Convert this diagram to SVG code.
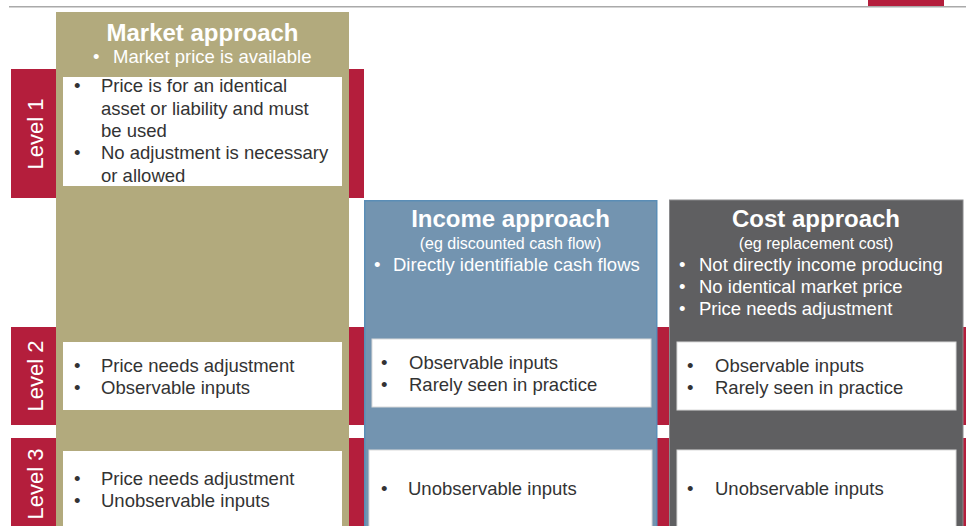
<svg xmlns="http://www.w3.org/2000/svg" width="966" height="526" viewBox="0 0 966 526">
  <style>
    text { font-family: "Liberation Sans", Arial, sans-serif; }
    .band { fill: #b41e3c; }
    .cell { fill: #ffffff; stroke: #d9d9d9; stroke-width: 1; }
    .title { font-size: 24px; font-weight: bold; fill: #ffffff; text-anchor: middle; }
    .sub { font-size: 16px; fill: #ffffff; text-anchor: middle; }
    .hdr { font-size: 18.5px; fill: #ffffff; }
    .body { font-size: 18.5px; fill: #333333; }
    .lvl { font-size: 22px; fill: #ffffff; text-anchor: middle; }
  </style>

  <!-- top rule and tab -->
  <rect x="9" y="6" width="957" height="1.5" fill="#aaaaaa"/>
  <rect x="868" y="0" width="76" height="6" fill="#b41e3c"/>

  <!-- level bands -->
  <g id="level1">
    <rect class="band" x="11" y="69" width="353" height="129"/>
    <text class="lvl" transform="translate(43,134) rotate(-90)">Level 1</text>
  </g>
  <g id="level2">
    <rect class="band" x="11" y="327" width="955" height="98"/>
    <text class="lvl" transform="translate(43,376) rotate(-90)">Level 2</text>
  </g>
  <g id="level3">
    <rect class="band" x="11" y="438" width="955" height="100"/>
    <text class="lvl" transform="translate(43,484) rotate(-90)">Level 3</text>
  </g>

  <!-- Market approach column -->
  <g id="market">
    <rect x="56" y="12" width="293" height="520" fill="#b2aa7d"/>
    <text class="title" x="202.5" y="41">Market approach</text>
    <text class="hdr" x="93" y="63">•</text>
    <text class="hdr" x="113" y="63">Market price is available</text>
  </g>
  <g id="market-l1">
    <rect x="63" y="77" width="279" height="109" fill="#ffffff"/>
    <text class="body" x="74" y="92">•</text>
    <text class="body" x="101" y="92">Price is for an identical</text>
    <text class="body" x="101" y="114.5">asset or liability and must</text>
    <text class="body" x="101" y="137">be used</text>
    <text class="body" x="74" y="159">•</text>
    <text class="body" x="101" y="159">No adjustment is necessary</text>
    <text class="body" x="101" y="181.5">or allowed</text>
  </g>
  <g id="market-l2">
    <rect x="63" y="342" width="279" height="68" fill="#ffffff"/>
    <text class="body" x="74" y="372">•</text>
    <text class="body" x="101" y="372">Price needs adjustment</text>
    <text class="body" x="74" y="394">•</text>
    <text class="body" x="101" y="394">Observable inputs</text>
  </g>
  <g id="market-l3">
    <rect x="63" y="451" width="279" height="80" fill="#ffffff"/>
    <text class="body" x="74" y="485">•</text>
    <text class="body" x="101" y="485">Price needs adjustment</text>
    <text class="body" x="74" y="507">•</text>
    <text class="body" x="101" y="507">Unobservable inputs</text>
  </g>

  <!-- Income approach column -->
  <g id="income">
    <rect x="364.75" y="200.75" width="292" height="340" fill="#7394b0" stroke="#5a8db6" stroke-width="1.5"/>
    <text class="title" x="510.5" y="227">Income approach</text>
    <text class="sub" x="510.5" y="249">(eg discounted cash flow)</text>
    <text class="hdr" x="374" y="271">•</text>
    <text class="hdr" x="393" y="271">Directly identifiable cash flows</text>
  </g>
  <g id="income-l2">
    <rect class="cell" x="372" y="339" width="279" height="68"/>
    <text class="body" x="381" y="369">•</text>
    <text class="body" x="409" y="369">Observable inputs</text>
    <text class="body" x="381" y="391">•</text>
    <text class="body" x="409" y="391">Rarely seen in practice</text>
  </g>
  <g id="income-l3">
    <rect class="cell" x="369" y="450" width="283" height="80"/>
    <text class="body" x="381" y="495">•</text>
    <text class="body" x="408" y="495">Unobservable inputs</text>
  </g>

  <!-- Cost approach column -->
  <g id="cost">
    <rect x="669.5" y="200" width="293.5" height="340" fill="#5f5f61" stroke="#8a8a8c" stroke-width="1"/>
    <text class="title" x="816" y="227">Cost approach</text>
    <text class="sub" x="816" y="249">(eg replacement cost)</text>
    <text class="hdr" x="679" y="271">•</text>
    <text class="hdr" x="699" y="271">Not directly income producing</text>
    <text class="hdr" x="679" y="293">•</text>
    <text class="hdr" x="699" y="293">No identical market price</text>
    <text class="hdr" x="679" y="315">•</text>
    <text class="hdr" x="699" y="315">Price needs adjustment</text>
  </g>
  <g id="cost-l2">
    <rect class="cell" x="677" y="342" width="279" height="68"/>
    <text class="body" x="687" y="372">•</text>
    <text class="body" x="715" y="372">Observable inputs</text>
    <text class="body" x="687" y="394">•</text>
    <text class="body" x="715" y="394">Rarely seen in practice</text>
  </g>
  <g id="cost-l3">
    <rect class="cell" x="677" y="450" width="279" height="80"/>
    <text class="body" x="687" y="495">•</text>
    <text class="body" x="715" y="495">Unobservable inputs</text>
  </g>

  <g id="connectors"/>
</svg>
